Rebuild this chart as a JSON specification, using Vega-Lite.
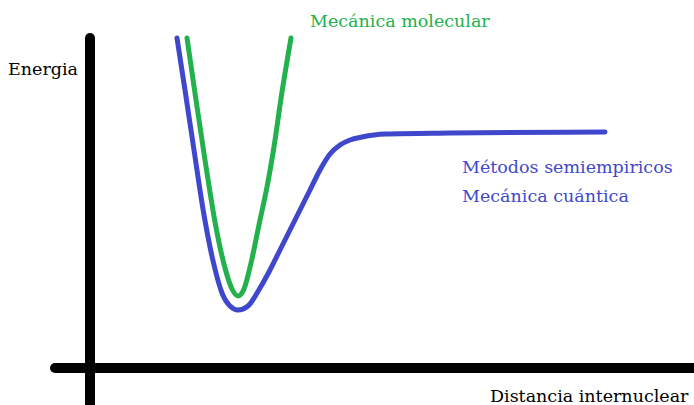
{
  "$schema": "https://vega.github.io/schema/vega-lite/v6.json",
  "width": 694,
  "height": 405,
  "autosize": {"type": "fit", "contains": "padding"},
  "padding": 0,
  "background": "white",
  "config": {"view": {"stroke": null}},
  "datasets": {
    "axes": [
      {"x": 90, "y": 38, "x2": 90, "y2": 420},
      {"x": 55, "y": 368, "x2": 710, "y2": 368}
    ],
    "curves": [
      {"s": "blue", "x": 177, "y": 38},
      {"s": "blue", "x": 185, "y": 90},
      {"s": "blue", "x": 194, "y": 150},
      {"s": "blue", "x": 204, "y": 215},
      {"s": "blue", "x": 214, "y": 265},
      {"s": "blue", "x": 222, "y": 293},
      {"s": "blue", "x": 230, "y": 306},
      {"s": "blue", "x": 238, "y": 310},
      {"s": "blue", "x": 248, "y": 306},
      {"s": "blue", "x": 260, "y": 288},
      {"s": "blue", "x": 270, "y": 270},
      {"s": "blue", "x": 280, "y": 250},
      {"s": "blue", "x": 290, "y": 230},
      {"s": "blue", "x": 300, "y": 210},
      {"s": "blue", "x": 310, "y": 190},
      {"s": "blue", "x": 320, "y": 170},
      {"s": "blue", "x": 330, "y": 154},
      {"s": "blue", "x": 340, "y": 145},
      {"s": "blue", "x": 350, "y": 140},
      {"s": "blue", "x": 362, "y": 137},
      {"s": "blue", "x": 385, "y": 134},
      {"s": "blue", "x": 450, "y": 133},
      {"s": "blue", "x": 605, "y": 132},
      {"s": "green", "x": 187, "y": 38},
      {"s": "green", "x": 196, "y": 100},
      {"s": "green", "x": 205, "y": 160},
      {"s": "green", "x": 215, "y": 222},
      {"s": "green", "x": 225, "y": 268},
      {"s": "green", "x": 232, "y": 289},
      {"s": "green", "x": 238, "y": 296},
      {"s": "green", "x": 244, "y": 289},
      {"s": "green", "x": 251, "y": 263},
      {"s": "green", "x": 260, "y": 220},
      {"s": "green", "x": 267, "y": 187},
      {"s": "green", "x": 273, "y": 153},
      {"s": "green", "x": 282, "y": 92},
      {"s": "green", "x": 291, "y": 38}
    ],
    "labels": [
      {"t": "Energia", "x": 8, "y": 70, "c": "black"},
      {"t": "Mecánica molecular", "x": 310, "y": 22, "c": "green"},
      {"t": "Métodos semiempiricos", "x": 462, "y": 168, "c": "blue"},
      {"t": "Mecánica cuántica", "x": 462, "y": 197, "c": "blue"},
      {"t": "Distancia internuclear", "x": 490, "y": 397, "c": "black"}
    ]
  },
  "layer": [
    {
      "data": {"name": "axes"},
      "mark": {"type": "rule", "strokeWidth": 10, "strokeCap": "round", "color": "black", "clip": true},
      "encoding": {
        "x": {"field": "x", "type": "quantitative", "scale": {"domain": [0, 694], "nice": false, "zero": false}, "axis": null},
        "y": {"field": "y", "type": "quantitative", "scale": {"domain": [0, 405], "reverse": true, "nice": false, "zero": false}, "axis": null},
        "x2": {"field": "x2"},
        "y2": {"field": "y2"}
      }
    },
    {
      "data": {"name": "curves"},
      "mark": {"type": "line", "strokeWidth": 5, "interpolate": "monotone", "strokeCap": "round", "strokeJoin": "round", "clip": true},
      "encoding": {
        "x": {"field": "x", "type": "quantitative"},
        "y": {"field": "y", "type": "quantitative"},
        "detail": {"field": "s"},
        "color": {"field": "s", "type": "nominal", "scale": {"domain": ["blue", "green", "black"], "range": ["#3f48cc", "#22b14c", "#000000"]}, "legend": null}
      }
    },
    {
      "data": {"name": "labels"},
      "mark": {"type": "text", "align": "left", "baseline": "middle", "font": "DejaVu Serif", "fontSize": 17.5, "clip": true},
      "encoding": {
        "x": {"field": "x", "type": "quantitative"},
        "y": {"field": "y", "type": "quantitative"},
        "text": {"field": "t"},
        "color": {"field": "c", "type": "nominal", "legend": null}
      }
    }
  ],
  "resolve": {"scale": {"color": "shared"}}
}
